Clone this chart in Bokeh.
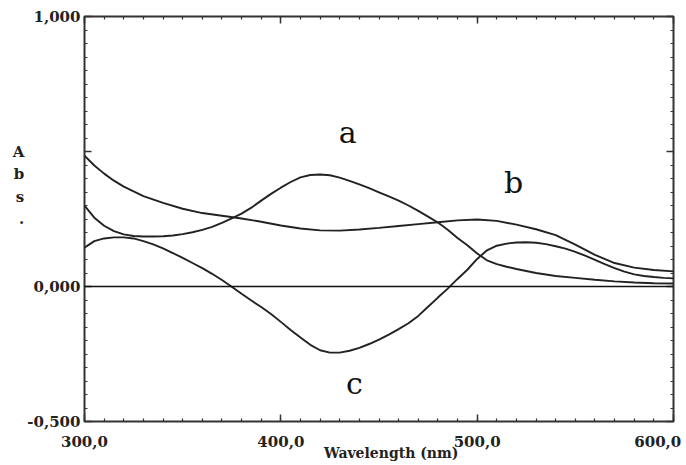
import numpy as np
from bokeh.plotting import figure
from bokeh.models import FixedTicker, LinearAxis, Span, Label, Range1d
from bokeh.embed import file_html
from bokeh.resources import INLINE

# ---- data ----
wl_a = [300, 305, 310, 315, 320, 325, 330, 335, 340, 345, 350, 355, 360, 365, 370, 375,
        380, 385, 390, 395, 400, 405, 410, 415, 420, 425, 430, 435, 440, 445, 450, 455,
        460, 465, 470, 475, 480, 485, 490, 495, 500, 505, 510, 515, 520, 530, 540, 550,
        560, 570, 580, 590, 600]
abs_a = [0.300, 0.255, 0.225, 0.205, 0.193, 0.187, 0.185, 0.185, 0.186, 0.189, 0.194,
         0.201, 0.210, 0.221, 0.236, 0.252, 0.270, 0.292, 0.318, 0.343, 0.366, 0.387,
         0.404, 0.413, 0.415, 0.412, 0.403, 0.391, 0.378, 0.364, 0.349, 0.334, 0.318,
         0.300, 0.280, 0.259, 0.237, 0.210, 0.180, 0.153, 0.122, 0.097, 0.083, 0.073,
         0.065, 0.050, 0.039, 0.032, 0.025, 0.019, 0.015, 0.012, 0.011]

wl_b = [300, 305, 310, 315, 320, 330, 340, 350, 360, 370, 380, 390, 400, 410, 420, 430,
        440, 450, 460, 470, 480, 490, 500, 510, 520, 530, 540, 550, 560, 570, 580, 590, 600]
abs_b = [0.485, 0.448, 0.418, 0.392, 0.370, 0.335, 0.310, 0.288, 0.272, 0.262, 0.252,
         0.240, 0.226, 0.215, 0.208, 0.207, 0.211, 0.217, 0.224, 0.231, 0.238, 0.245,
         0.248, 0.243, 0.229, 0.212, 0.190, 0.155, 0.117, 0.087, 0.070, 0.061, 0.056]

wl_c = [300, 305, 310, 315, 320, 325, 330, 335, 340, 345, 350, 355, 360, 365, 370, 375,
        380, 385, 390, 395, 400, 405, 410, 415, 420, 425, 430, 435, 440, 445, 450, 455,
        460, 465, 470, 475, 480, 485, 490, 495, 500, 505, 510, 515, 520, 525, 530, 535,
        540, 545, 550, 555, 560, 565, 570, 575, 580, 585, 590, 595, 600]
abs_c = [0.144, 0.168, 0.178, 0.182, 0.182, 0.178, 0.168, 0.156, 0.141, 0.124, 0.106,
         0.087, 0.068, 0.047, 0.024, -0.001, -0.027, -0.052, -0.076, -0.102, -0.131,
         -0.161, -0.189, -0.216, -0.236, -0.245, -0.245, -0.238, -0.227, -0.213, -0.197,
         -0.178, -0.158, -0.136, -0.109, -0.075, -0.041, -0.008, 0.028, 0.062, 0.102,
         0.134, 0.151, 0.159, 0.163, 0.164, 0.162, 0.157, 0.149, 0.140, 0.128, 0.114,
         0.099, 0.083, 0.068, 0.055, 0.045, 0.039, 0.035, 0.032, 0.030]

x_ticks = [300, 400, 500, 600]
x_tick_labels = ["300,0", "400,0", "500,0", "600,0"]
y_ticks = [-0.5, 0.0, 0.5, 1.0]
y_tick_labels = ["-0,500", "0,000", "", "1,000"]
x_label = "Wavelength (nm)"
y_label_letters = ["A", "b", "s", "."]
curve_names = ["a", "b", "c"]

SERIF = "DejaVu Serif"
INK = "#222222"
NBSP = "\u00a0"

p = figure(width=686, height=465, x_range=Range1d(300, 600), y_range=Range1d(-0.5, 1.0),
           output_backend="svg", toolbar_location=None,
           min_border_left=84, min_border_right=13, min_border_top=16, min_border_bottom=44)
p.grid.visible = False
p.outline_line_color = "#333333"
p.outline_line_width = 2
p.background_fill_color = "white"
p.border_fill_color = "white"

x_minor = [float(v) for v in np.arange(300, 601, 10)]
y_minor = [round(float(v), 3) for v in np.arange(-0.5, 1.0001, 0.05)]
xt = FixedTicker(ticks=x_ticks, minor_ticks=x_minor)
yt = FixedTicker(ticks=y_ticks, minor_ticks=y_minor)

x_over = {float(t): l for t, l in zip(x_ticks, x_tick_labels)}
x_over[float(x_ticks[-1])] = x_tick_labels[-1] + NBSP
y_over = {float(t): l for t, l in zip(y_ticks, y_tick_labels)}


def style_axis(ax, ticker, overrides, standoff):
    ax.ticker = ticker
    ax.major_label_overrides = overrides
    ax.axis_line_color = None
    ax.major_tick_in = 7
    ax.major_tick_out = 0
    ax.minor_tick_in = 3
    ax.minor_tick_out = 0
    ax.major_tick_line_color = "#333333"
    ax.minor_tick_line_color = "#333333"
    ax.major_tick_line_width = 1.5
    ax.minor_tick_line_width = 1.2
    ax.major_label_standoff = standoff
    ax.major_label_text_font = SERIF
    ax.major_label_text_font_style = "bold"
    ax.major_label_text_font_size = "15px"
    ax.major_label_text_color = "#222222"


xa = p.xaxis[0]
style_axis(xa, xt, x_over, 11)
xa.axis_label = NBSP * 5 + x_label
xa.axis_label_standoff = -9
xa.axis_label_text_font = SERIF
xa.axis_label_text_font_style = "bold"
xa.axis_label_text_font_size = "14px"
xa.axis_label_text_color = "#222222"

ya = p.yaxis[0]
style_axis(ya, yt, y_over, 4)
ya.axis_label = "\n".join(y_label_letters + [NBSP] * 3)
ya.axis_label_orientation = "horizontal"
ya.axis_label_standoff = 0
ya.axis_label_text_font = SERIF
ya.axis_label_text_font_style = "bold"
ya.axis_label_text_font_size = "15px"
ya.axis_label_text_line_height = 1.25
ya.axis_label_text_color = "#222222"

top = LinearAxis()
style_axis(top, xt, {float(t): "" for t in x_ticks}, 0)
top.major_label_text_font_size = "0px"
p.add_layout(top, "above")

right = LinearAxis()
style_axis(right, yt, {float(t): "" for t in y_ticks}, 0)
right.major_label_text_font_size = "0px"
p.add_layout(right, "right")

# zero line
p.add_layout(Span(location=0, dimension="width", line_color="#111111", line_width=1.6))

# curves
p.line(wl_a, abs_a, line_color=INK, line_width=1.9)
p.line(wl_b, abs_b, line_color=INK, line_width=1.9)
p.line(wl_c, abs_c, line_color=INK, line_width=1.9)

# curve letters
for name, (lx, ly) in zip(curve_names, [(434, 0.57), (518.5, 0.385), (437.5, -0.36)]):
    p.add_layout(Label(x=lx, y=ly, text=name, text_font=SERIF, text_font_size="30px",
                       text_align="center", text_baseline="alphabetic", text_color="#111111"))

open("out.html", "w").write(file_html(p, INLINE))
